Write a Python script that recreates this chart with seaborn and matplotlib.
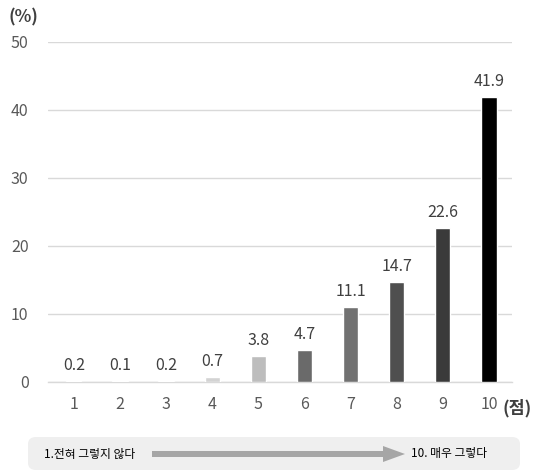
import matplotlib
matplotlib.use("Agg")
import matplotlib.pyplot as plt
from matplotlib.patches import FancyBboxPatch, FancyArrow
import seaborn as sns
import pandas as pd

scores = ["1", "2", "3", "4", "5", "6", "7", "8", "9", "10"]
percent = [0.2, 0.1, 0.2, 0.7, 3.8, 4.7, 11.1, 14.7, 22.6, 41.9]
bar_colors = ["#9a9a9a", "#ababab", "#303030", "#d3d3d3", "#bdbdbd",
              "#6a6a6a", "#717171", "#4f4f4f", "#3a3a3a", "#000000"]
y_ticks = [0, 10, 20, 30, 40, 50]
left_label = "1.전혀 그렇지 않다"
right_label = "10. 매우 그렇다"

sns.set_style("white")
plt.rcParams["font.family"] = ["Noto Sans CJK KR", "DejaVu Sans"]

df = pd.DataFrame({"score": scores, "percent": percent})

fig = plt.figure(figsize=(5.36, 4.76), dpi=100)
ax = fig.add_axes([48 / 536, 94 / 476, 464 / 536, 340 / 476])

sns.barplot(data=df, x="score", y="percent", hue="score", palette=bar_colors,
            width=0.33, legend=False, ax=ax, saturation=1, zorder=3)

text_color = "#595959"
ax.set_ylim(0, 50)
ax.set_xlim(-0.56, 9.5)
ax.set_yticks(y_ticks)
ax.yaxis.grid(True, color="#d9d9d9", linewidth=1, zorder=0)
ax.set_axisbelow(True)
for s in ["left", "right", "top"]:
    ax.spines[s].set_visible(False)
ax.spines["bottom"].set_color("#d9d9d9")
ax.spines["bottom"].set_linewidth(1)
ax.spines["bottom"].set_zorder(0.5)
ax.tick_params(axis="both", length=0, labelsize=11.5, labelcolor=text_color)
ax.tick_params(axis="y", pad=14)
ax.tick_params(axis="x", pad=10)
ax.set_xlabel("")
ax.set_ylabel("")

for i, v in enumerate(percent):
    ax.annotate(f"{v}", (i, v), xytext=(0, 5), textcoords="offset points",
                ha="center", va="bottom", fontsize=11.5, color="#404040")

fig.text(8 / 536, 1 - 17 / 476, "(%)", fontsize=12.5, color="#404040",
         va="center", ha="left", fontweight="bold")
fig.text(502 / 536, 1 - 408 / 476, "(점)", fontsize=12.5, color="#404040",
         va="center", ha="left", fontweight="bold")

# legend strip showing scale direction
box = FancyBboxPatch((28 / 536, 1 - 470 / 476), 492 / 536, 33 / 476,
                     boxstyle="round,pad=0,rounding_size=0.015",
                     transform=fig.transFigure, facecolor="#efefef",
                     edgecolor="none")
fig.patches.append(box)
fig.text(44 / 536, 1 - 454 / 476, left_label, fontsize=8.5, color="#000000",
         va="center", ha="left")
fig.text(411 / 536, 1 - 454 / 476, right_label, fontsize=8.5, color="#000000",
         va="center", ha="left")
arrow = FancyArrow(152 / 536, 1 - 454 / 476, 253 / 536, 0,
                   width=6 / 476, head_width=16 / 476, head_length=22 / 536,
                   length_includes_head=True, transform=fig.transFigure,
                   facecolor="#a6a6a6", edgecolor="none")
fig.patches.append(arrow)

fig.savefig("out.png", dpi=100)
